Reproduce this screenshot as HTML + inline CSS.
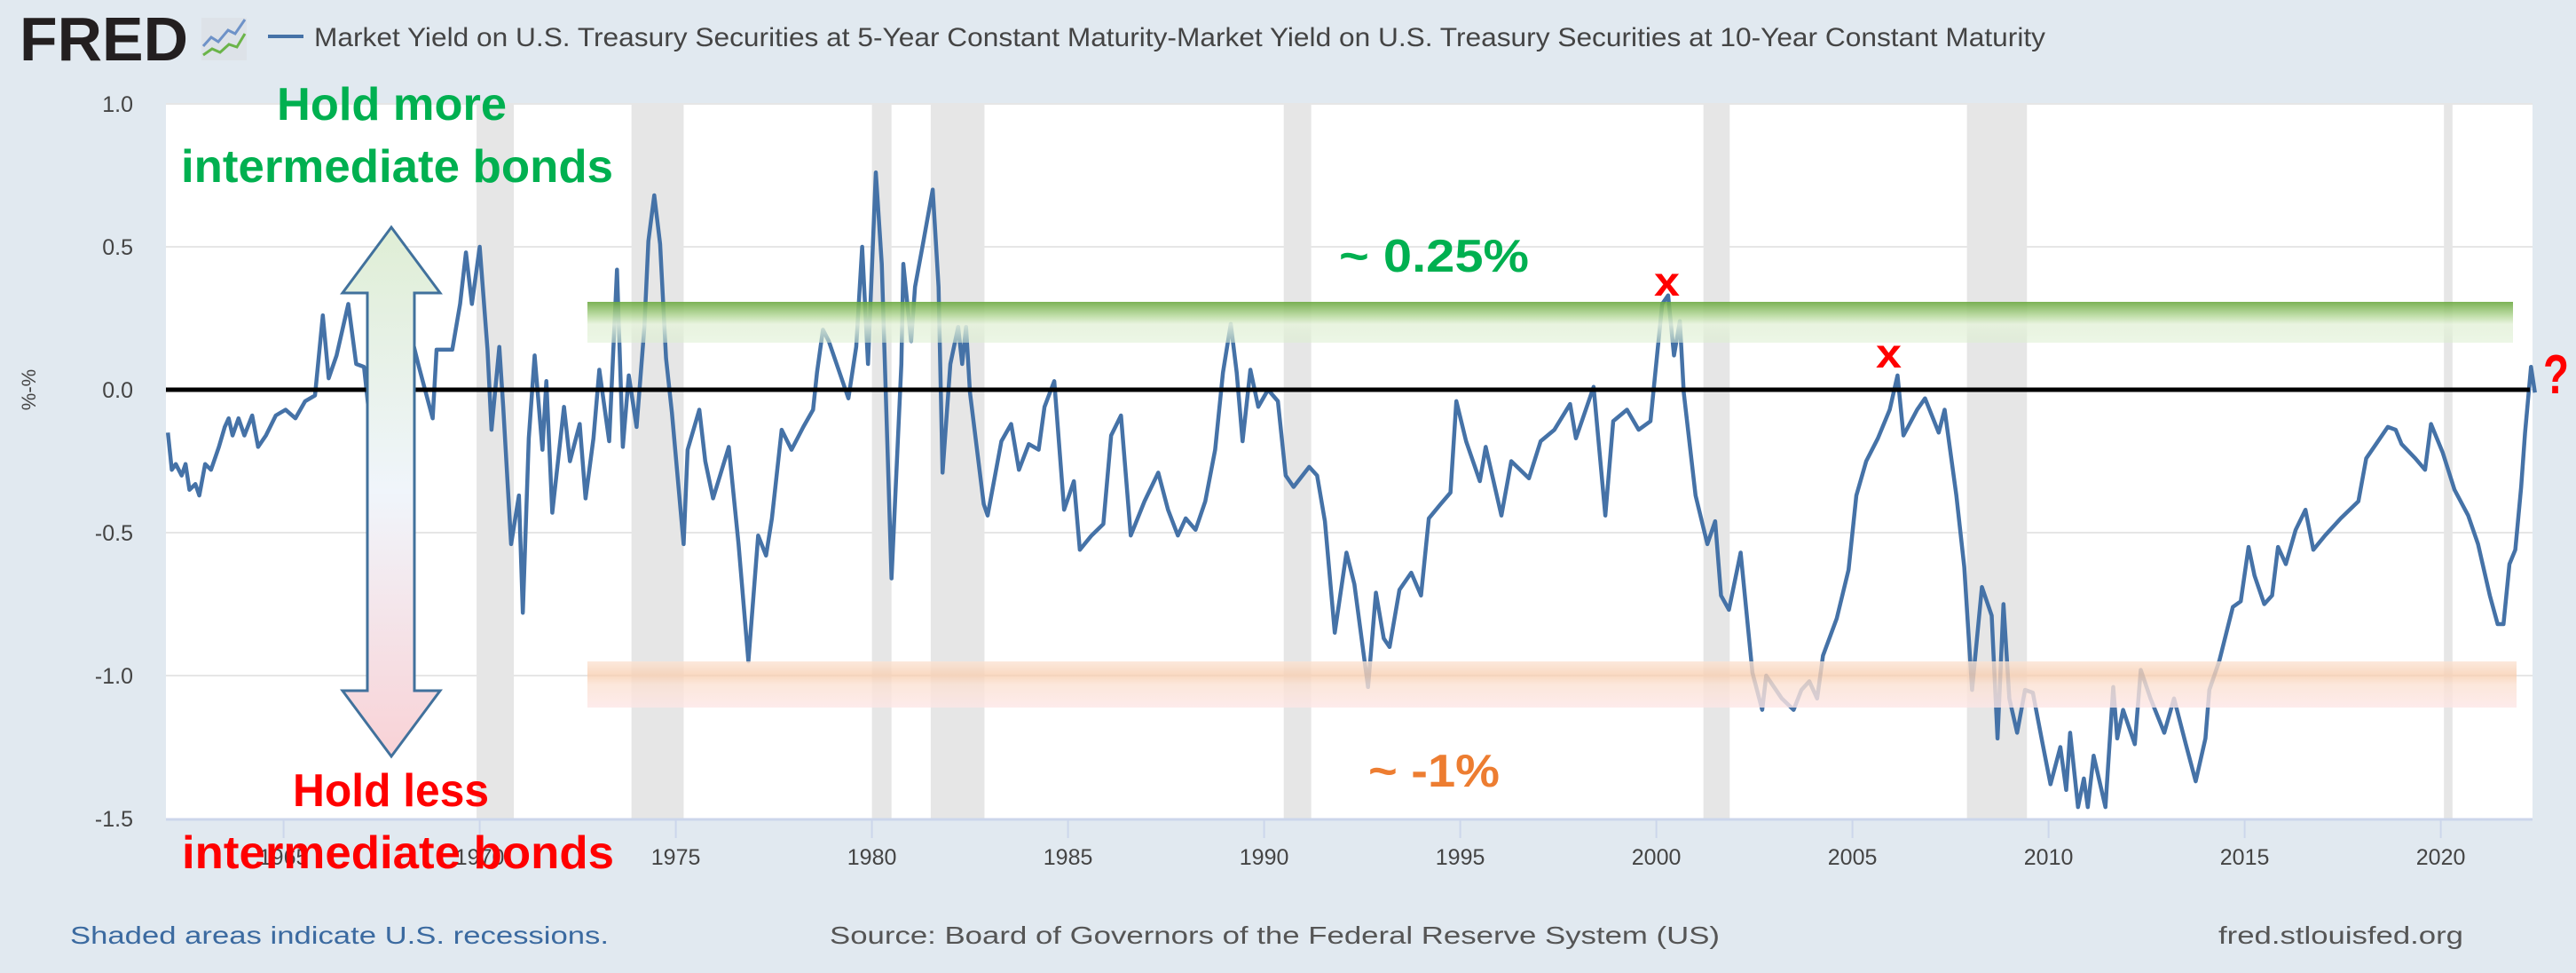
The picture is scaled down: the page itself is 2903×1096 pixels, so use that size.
<!DOCTYPE html>
<html>
<head>
<meta charset="utf-8">
<style>
  html, body { margin:0; padding:0; }
  body { width:2903px; height:1096px; background:#e1e9f0; overflow:hidden; font-family:"Liberation Sans", Arial, sans-serif; }
  svg { display:block; }
</style>
</head>
<body>
<svg id="chart" width="2903" height="1096" viewBox="0 0 2903 1096" xmlns="http://www.w3.org/2000/svg">
  <defs>
    <linearGradient id="greenBand" x1="0" y1="0" x2="0" y2="1">
      <stop offset="0" stop-color="#6aa83e"/>
      <stop offset="0.35" stop-color="#b9db9f"/>
      <stop offset="0.55" stop-color="#e6f2dc"/>
      <stop offset="1" stop-color="#dcefd0" stop-opacity="0.6"/>
    </linearGradient>
    <linearGradient id="orangeBand" x1="0" y1="0" x2="0" y2="1">
      <stop offset="0" stop-color="#fbe3d3"/>
      <stop offset="0.3" stop-color="#f8cfb2"/>
      <stop offset="0.5" stop-color="#fbe1d2"/>
      <stop offset="1" stop-color="#fde6e6"/>
    </linearGradient>
    <linearGradient id="arrowFill" x1="0" y1="0" x2="0" y2="1">
      <stop offset="0" stop-color="#dfeed5"/>
      <stop offset="0.5" stop-color="#f0f5fb"/>
      <stop offset="1" stop-color="#f9d2d6"/>
    </linearGradient>
  </defs>

  <!-- header -->
  <g>
    <text x="22" y="68" font-family="Liberation Sans, sans-serif" font-weight="bold" font-size="70" fill="#231f20" textLength="190" lengthAdjust="spacingAndGlyphs">FRED</text>
    <rect x="227" y="20" width="51" height="48" fill="#dde2e8"/>
    <polyline points="229,52 238,42 246,47 257,34 265,38 276,22" fill="none" stroke="#6e92c8" stroke-width="3"/>
    <polyline points="229,62 239,55 248,59 258,50 267,53 276,38" fill="none" stroke="#6bb449" stroke-width="3"/>
  </g>
  <line x1="302" y1="41" x2="342" y2="41" stroke="#4572a7" stroke-width="4"/>
  <text x="354" y="52" font-size="30" fill="#444" textLength="1951" lengthAdjust="spacingAndGlyphs">Market Yield on U.S. Treasury Securities at 5-Year Constant Maturity-Market Yield on U.S. Treasury Securities at 10-Year Constant Maturity</text>

  <!-- plot -->
  <rect x="187" y="117" width="2667" height="805" fill="#ffffff"/>
  <g id="recessions"></g>
  <g id="grid"></g>
  <g id="yticks"></g>
  <g id="xticks"></g>
  <text x="0" y="0" font-size="22" fill="#444" text-anchor="middle" transform="translate(40,439) rotate(-90)">%-%</text>

  <path id="series" fill="none" stroke="#4572a7" stroke-width="4.5" stroke-linejoin="round"/>

  <line x1="187" y1="439" x2="2851" y2="439" stroke="#000" stroke-width="5"/>

  <rect x="662" y="340" width="2170" height="46" fill="url(#greenBand)" opacity="0.88"/>
  <rect x="662" y="745" width="2174" height="52" fill="url(#orangeBand)" opacity="0.8"/>

  <!-- arrow -->
  <path d="M441,256 L496,330 L467,330 L467,778 L496,778 L441,852 L386,778 L414,778 L414,330 L386,330 Z" fill="url(#arrowFill)" stroke="#41719c" stroke-width="3" stroke-linejoin="miter"/>

  <!-- annotations -->
  <g font-family="Liberation Sans, sans-serif" font-weight="bold">
    <text x="312" y="135" font-size="52" fill="#00b050" textLength="259" lengthAdjust="spacingAndGlyphs">Hold more</text>
    <text x="204" y="205" font-size="52" fill="#00b050" textLength="487" lengthAdjust="spacingAndGlyphs">intermediate bonds</text>
    <text x="330" y="908" font-size="52" fill="#ff0000" textLength="221" lengthAdjust="spacingAndGlyphs">Hold less</text>
    <text x="205" y="978" font-size="52" fill="#ff0000" textLength="487" lengthAdjust="spacingAndGlyphs">intermediate bonds</text>
    <text x="1509" y="306" font-size="52" fill="#00b050" textLength="214" lengthAdjust="spacingAndGlyphs">~ 0.25%</text>
    <text x="1542" y="886" font-size="52" fill="#ed7d31" textLength="148" lengthAdjust="spacingAndGlyphs">~ -1%</text>
    <text x="1864" y="333" font-size="46" fill="#ff0000" textLength="29" lengthAdjust="spacingAndGlyphs">x</text>
    <text x="2114" y="414" font-size="46" fill="#ff0000" textLength="29" lengthAdjust="spacingAndGlyphs">x</text>
    <text x="2866" y="443" font-size="62" fill="#ff0000" textLength="29" lengthAdjust="spacingAndGlyphs">?</text>
  </g>

  <!-- footer -->
  <text x="79" y="1063" font-size="28" fill="#3b6aa0" textLength="607" lengthAdjust="spacingAndGlyphs">Shaded areas indicate U.S. recessions.</text>
  <text x="935" y="1063" font-size="28" fill="#555" textLength="1003" lengthAdjust="spacingAndGlyphs">Source: Board of Governors of the Federal Reserve System (US)</text>
  <text x="2500" y="1063" font-size="28" fill="#555" textLength="276" lengthAdjust="spacingAndGlyphs">fred.stlouisfed.org</text>
</svg>

<script>
const dates = [1962.05,1962.15,1962.25,1962.4,1962.5,1962.6,1962.75,1962.85,1963.0,1963.15,1963.35,1963.5,1963.6,1963.7,1963.85,1964.0,1964.2,1964.35,1964.55,1964.8,1965.05,1965.3,1965.55,1965.8,1966.0,1966.15,1966.35,1966.65,1966.85,1967.05,1967.2,1967.45,1967.9,1968.25,1968.45,1968.8,1968.9,1969.3,1969.5,1969.65,1969.8,1970.0,1970.2,1970.3,1970.5,1970.6,1970.8,1971.0,1971.1,1971.25,1971.4,1971.6,1971.7,1971.85,1972.15,1972.3,1972.55,1972.7,1972.9,1973.05,1973.3,1973.5,1973.65,1973.8,1974.0,1974.2,1974.3,1974.45,1974.6,1974.75,1974.9,1975.2,1975.3,1975.45,1975.6,1975.75,1975.95,1976.35,1976.6,1976.85,1977.1,1977.3,1977.45,1977.7,1977.95,1978.25,1978.5,1978.6,1978.75,1978.9,1979.4,1979.6,1979.75,1979.9,1980.1,1980.25,1980.5,1980.75,1980.8,1981.0,1981.1,1981.3,1981.55,1981.7,1981.8,1982.0,1982.2,1982.3,1982.4,1982.5,1982.85,1982.95,1983.3,1983.55,1983.75,1984.0,1984.25,1984.4,1984.65,1984.9,1985.15,1985.3,1985.6,1985.9,1986.1,1986.35,1986.6,1986.95,1987.3,1987.55,1987.8,1988.0,1988.25,1988.5,1988.75,1988.95,1989.15,1989.3,1989.45,1989.65,1989.85,1990.1,1990.35,1990.55,1990.75,1991.15,1991.35,1991.55,1991.8,1992.1,1992.3,1992.65,1992.85,1993.05,1993.2,1993.45,1993.75,1994.0,1994.2,1994.5,1994.75,1994.9,1995.15,1995.5,1995.65,1996.05,1996.3,1996.75,1997.05,1997.4,1997.8,1997.95,1998.4,1998.7,1998.9,1999.25,1999.55,1999.85,2000.15,2000.3,2000.45,2000.6,2000.7,2001.0,2001.3,2001.5,2001.65,2001.85,2002.15,2002.45,2002.7,2002.8,2003.2,2003.5,2003.7,2003.9,2004.1,2004.25,2004.6,2004.9,2005.1,2005.35,2005.65,2005.95,2006.15,2006.3,2006.65,2006.85,2007.2,2007.35,2007.65,2007.85,2008.05,2008.3,2008.55,2008.7,2008.85,2009.0,2009.2,2009.4,2009.6,2009.85,2010.05,2010.3,2010.45,2010.55,2010.75,2010.9,2011.0,2011.15,2011.45,2011.65,2011.75,2011.9,2012.2,2012.35,2012.6,2012.95,2013.2,2013.5,2013.75,2014.0,2014.1,2014.35,2014.7,2014.9,2015.1,2015.25,2015.5,2015.7,2015.85,2016.05,2016.3,2016.55,2016.75,2017.05,2017.45,2017.9,2018.1,2018.35,2018.65,2018.85,2019.0,2019.35,2019.6,2019.75,2020.05,2020.35,2020.7,2020.95,2021.25,2021.45,2021.6,2021.75,2021.9,2022.05,2022.15,2022.3,2022.4];
const values = [-0.15,-0.28,-0.26,-0.3,-0.26,-0.35,-0.33,-0.37,-0.26,-0.28,-0.2,-0.13,-0.1,-0.16,-0.1,-0.16,-0.09,-0.2,-0.16,-0.09,-0.07,-0.1,-0.04,-0.02,0.26,0.04,0.12,0.30,0.09,0.08,-0.11,0.04,0.0,0.19,0.08,-0.1,0.14,0.14,0.30,0.48,0.30,0.50,0.14,-0.14,0.15,-0.06,-0.54,-0.37,-0.78,-0.17,0.12,-0.21,0.03,-0.43,-0.06,-0.25,-0.12,-0.38,-0.17,0.07,-0.18,0.42,-0.2,0.05,-0.13,0.22,0.52,0.68,0.51,0.11,-0.08,-0.54,-0.21,-0.14,-0.07,-0.25,-0.38,-0.2,-0.54,-0.95,-0.51,-0.58,-0.45,-0.14,-0.21,-0.13,-0.07,0.06,0.21,0.17,-0.03,0.15,0.50,0.09,0.76,0.44,-0.66,0.09,0.44,0.17,0.36,0.51,0.70,0.36,-0.29,0.09,0.22,0.09,0.22,-0.01,-0.4,-0.44,-0.18,-0.12,-0.28,-0.19,-0.21,-0.06,0.03,-0.42,-0.32,-0.56,-0.51,-0.47,-0.16,-0.09,-0.51,-0.39,-0.29,-0.42,-0.51,-0.45,-0.49,-0.39,-0.21,0.06,0.23,0.06,-0.18,0.07,-0.06,0.0,-0.04,-0.3,-0.34,-0.27,-0.3,-0.46,-0.85,-0.57,-0.68,-1.04,-0.71,-0.87,-0.9,-0.70,-0.64,-0.72,-0.45,-0.40,-0.36,-0.04,-0.18,-0.32,-0.2,-0.44,-0.25,-0.31,-0.18,-0.14,-0.05,-0.17,0.01,-0.44,-0.11,-0.07,-0.14,-0.11,0.30,0.33,0.12,0.24,-0.01,-0.37,-0.54,-0.46,-0.72,-0.77,-0.57,-0.99,-1.12,-1.0,-1.08,-1.12,-1.05,-1.02,-1.08,-0.93,-0.8,-0.63,-0.37,-0.25,-0.17,-0.07,0.05,-0.16,-0.07,-0.03,-0.15,-0.07,-0.37,-0.62,-1.05,-0.69,-0.79,-1.22,-0.75,-1.08,-1.2,-1.05,-1.06,-1.24,-1.38,-1.25,-1.4,-1.2,-1.46,-1.36,-1.46,-1.28,-1.46,-1.04,-1.22,-1.12,-1.24,-0.98,-1.08,-1.2,-1.08,-1.24,-1.37,-1.22,-1.05,-0.95,-0.76,-0.74,-0.55,-0.65,-0.75,-0.72,-0.55,-0.61,-0.49,-0.42,-0.56,-0.51,-0.45,-0.39,-0.24,-0.19,-0.13,-0.14,-0.19,-0.24,-0.28,-0.12,-0.22,-0.35,-0.44,-0.54,-0.72,-0.82,-0.82,-0.61,-0.56,-0.34,-0.15,0.08,-0.01];
const recessionStarts = [1969.92,1973.87,1980.0,1981.5,1990.5,2001.2,2007.92,2020.08];
const recessionEnds = [1970.87,1975.2,1980.5,1982.87,1991.2,2001.87,2009.45,2020.3];
const yTicks = [1.0,0.5,0.0,-0.5,-1.0,-1.5];
const yTickLabels = ["1.0","0.5","0.0","-0.5","-1.0","-1.5"];
const xTicks = [1965,1970,1975,1980,1985,1990,1995,2000,2005,2010,2015,2020];

const NS = "http://www.w3.org/2000/svg";
const PL = 187, PR = 2854, PT = 117, PB = 922;
function xScale(t) { return PL + (t - 1962.0) * 44.2; }
function yScale(v) { return PT + (1.0 - v) * 322; }
function mk(tag, attrs, parent) {
  const e = document.createElementNS(NS, tag);
  for (const k in attrs) e.setAttribute(k, attrs[k]);
  parent.appendChild(e);
  return e;
}

const rg = document.getElementById('recessions');
for (let i = 0; i < recessionStarts.length; i++) {
  const r = mk('rect', {x: xScale(recessionStarts[i]), y: PT, width: xScale(recessionEnds[i]) - xScale(recessionStarts[i]), height: PB - PT, fill: '#e6e6e6'}, rg);
  
  
}

const gg = document.getElementById('grid');
const yg = document.getElementById('yticks');
for (let i = 0; i < yTicks.length; i++) {
  const y = yScale(yTicks[i]);
  if (yTicks[i] !== -1.5) {
    const l = mk('line', {x1: PL, x2: PR, y1: y, y2: y, stroke: '#e6e6e6', 'stroke-width': 2}, gg);
    
    
  }
  const t = mk('text', {x: 150, y: y + 9, 'font-size': 25, fill: '#444', 'text-anchor': 'end'}, yg);
  
  
  t.textContent = yTickLabels[i];
}

const xg = document.getElementById('xticks');
const ax = mk('line', {x1: PL, x2: PR, y1: PB + 1, y2: PB + 1, stroke: '#ccd6eb', 'stroke-width': 3}, xg);


for (let i = 0; i < xTicks.length; i++) {
  const x = xScale(xTicks[i]);
  const tk = mk('line', {x1: x, x2: x, y1: PB, y2: PB + 22, stroke: '#ccd6eb', 'stroke-width': 2}, xg);
  
  
  const t = mk('text', {x: x, y: 974, 'font-size': 25, fill: '#444', 'text-anchor': 'middle'}, xg);
  
  
  t.textContent = String(xTicks[i]);
}

let d = '';
for (let i = 0; i < dates.length; i++) {
  d += (i ? 'L' : 'M') + xScale(dates[i]).toFixed(1) + ',' + yScale(values[i]).toFixed(1);
}
document.getElementById('series').setAttribute('d', d);
</script>
</body>
</html>
